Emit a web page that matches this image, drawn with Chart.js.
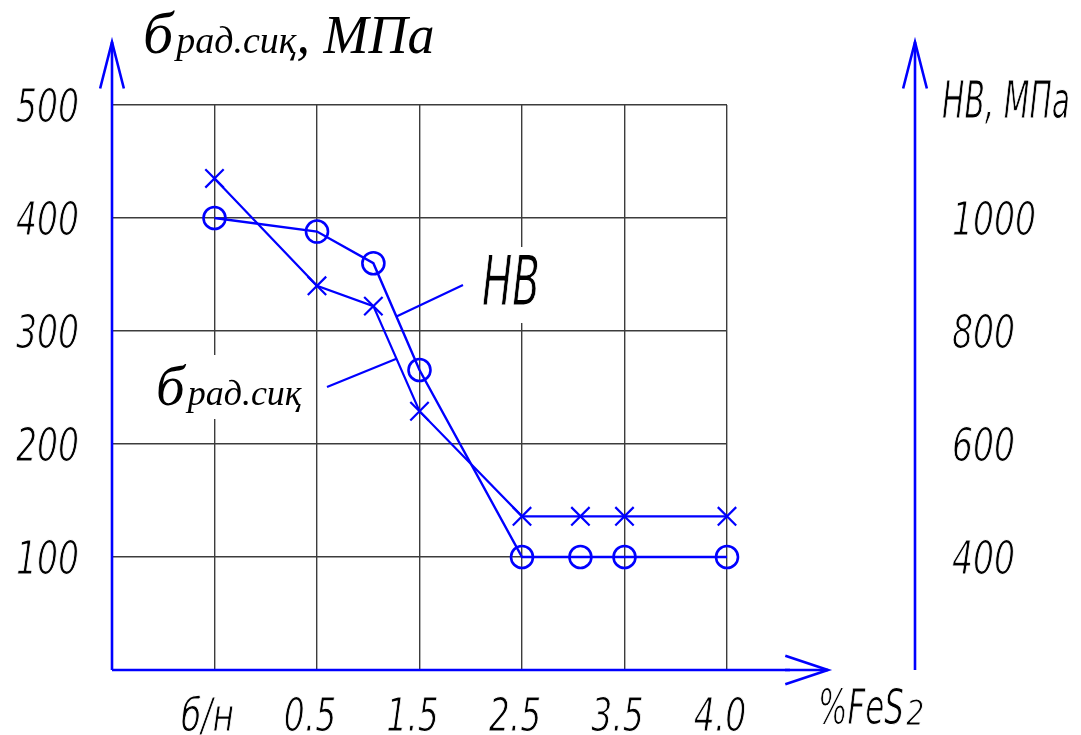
<!DOCTYPE html>
<html lang="ru">
<head>
<meta charset="utf-8">
<title>σ рад.сиқ и HB от содержания FeS2</title>
<script src="https://cdn.jsdelivr.net/npm/chart.js@4.4.1/dist/chart.umd.min.js"></script>
<style>
  html, body { margin: 0; padding: 0; background: #ffffff; }
  #wrap { position: relative; width: 1081px; height: 735px; }
</style>
</head>
<body>
<div id="wrap"><canvas id="chart"></canvas></div>
<script>
// Содержание FeS2 (категории) и их положение на оси абсцисс
const categories = ['б/н', '0.5', '1.0', '1.5', '2.5', '3.0', '3.5', '4.0'];
const axisSlots = [0, 1, 1.55, 2, 3, 3.57, 4, 5];

// Предел прочности при радиальном сжатии, МПа (левая ось)
const sigmaValues = [435, 340, 322, 229, 136, 136, 136, 136];
// Твёрдость HB, МПа (правая ось)
const hbValues = [1000, 976, 920, 731, 400, 400, 400, 400];

// Подписи осей
const xTickSlots = [0, 1, 2, 3, 4, 5];
const xTickLabels = ['б/н', '0.5', '1.5', '2.5', '3.5', '4.0'];
const sigmaTicks = [100, 200, 300, 400, 500];
const hbTicks = [400, 600, 800, 1000];

const BLUE = '#0000ff';
const GRID = '#3c3c3c';
// Наклонный шрифт, ужимаемый по ширине, как чертёжный
const GOST = '"DejaVu Sans", sans-serif';
const SERIF = '"Liberation Serif", "DejaVu Serif", serif';
const NUM_FONT = 'italic 46px ' + GOST;

function gostFont(size) {
  return 'italic ' + size + 'px ' + GOST;
}

function toPoints(values) {
  return axisSlots.map((x, i) => ({ x: x, y: values[i] }));
}

// Горизонтальное сжатие, при котором «500» имеет ширину чертёжного шрифта
function numberSqueeze(ctx) {
  ctx.save();
  ctx.font = NUM_FONT;
  const w = ctx.measureText('500').width;
  ctx.restore();
  return 63 / w;
}

// Текст с горизонтальным сжатием; белая обводка делает штрих тоньше
function text(ctx, str, x, y, font, align, sx) {
  ctx.save();
  ctx.translate(x, y);
  ctx.scale(sx || 1, 1);
  ctx.font = font;
  ctx.textAlign = align || 'left';
  ctx.textBaseline = 'alphabetic';
  ctx.fillStyle = '#000000';
  ctx.fillText(str, 0, 0);
  ctx.strokeStyle = '#ffffff';
  ctx.lineWidth = 1.1;
  ctx.lineJoin = 'round';
  ctx.strokeText(str, 0, 0);
  ctx.restore();
}

// Текст, ужатый до заданной ширины; возвращает правый край
function textFit(ctx, str, x, y, font, width) {
  ctx.save();
  ctx.font = font;
  const w = ctx.measureText(str).width;
  ctx.restore();
  text(ctx, str, x, y, font, 'left', width / w);
  return x + width;
}

// Обозначение σрад.сиқ: крупная буква и индекс
function sigmaSymbol(ctx, x, y, bigSize, subSize, tail, tailSize) {
  ctx.save();
  ctx.fillStyle = '#000000';
  ctx.textBaseline = 'alphabetic';
  ctx.textAlign = 'left';
  ctx.font = 'italic ' + bigSize + 'px ' + SERIF;
  ctx.fillText('б', x, y);
  let cx = x + ctx.measureText('б').width + 3;
  ctx.font = 'italic ' + subSize + 'px ' + SERIF;
  ctx.fillText('рад.сиқ', cx, y);
  cx += ctx.measureText('рад.сиқ').width;
  if (tail) {
    ctx.font = 'italic ' + tailSize + 'px ' + SERIF;
    ctx.fillText(tail, cx, y);
  }
  ctx.restore();
}

function arrowLine(ctx, x1, y1, x2, y2, wing, spread) {
  const a = Math.atan2(y2 - y1, x2 - x1);
  ctx.beginPath();
  ctx.moveTo(x1, y1);
  ctx.lineTo(x2, y2);
  ctx.stroke();
  ctx.beginPath();
  ctx.moveTo(x2 - wing * Math.cos(a - spread), y2 - wing * Math.sin(a - spread));
  ctx.lineTo(x2, y2);
  ctx.lineTo(x2 - wing * Math.cos(a + spread), y2 - wing * Math.sin(a + spread));
  ctx.stroke();
}

// Точка посередине отрезка ломаной (для выносных линий)
function segmentMid(meta, i) {
  const p = meta.data[i], q = meta.data[i + 1];
  return { x: (p.x + q.x) / 2, y: (p.y + q.y) / 2 };
}

const drawing = {
  id: 'drawing',
  afterDraw(chart) {
    const ctx = chart.ctx;
    const xs = chart.scales.x, ys = chart.scales.y, y2 = chart.scales.y2;
    const left = chart.chartArea.left, bottom = chart.chartArea.bottom;
    const rightAxisX = 915;
    const sx = numberSqueeze(ctx);

    // Подписи делений левой оси
    sigmaTicks.forEach(v => {
      text(ctx, String(v), 79, ys.getPixelForValue(v) + 17, NUM_FONT, 'right', sx);
    });
    // Подписи делений правой оси
    hbTicks.forEach(v => {
      text(ctx, String(v), 952, y2.getPixelForValue(v) + 17, NUM_FONT, 'left', sx);
    });
    // Подписи делений оси абсцисс
    xTickSlots.forEach((s, i) => {
      text(ctx, xTickLabels[i], xs.getPixelForValue(s) - 7, 731, NUM_FONT, 'center', sx);
    });

    // Наименования осей
    const fesEnd = textFit(ctx, '%FeS', 818, 724, gostFont(50), 86);
    text(ctx, '2', fesEnd + 2, 725, gostFont(36), 'left', 0.8);
    textFit(ctx, 'HB, МПа', 942, 118, gostFont(51), 128);
    sigmaSymbol(ctx, 143, 53, 60, 38, ', МПа', 54);

    // Оси со стрелками
    ctx.save();
    ctx.strokeStyle = BLUE;
    ctx.lineWidth = 2.6;
    ctx.lineCap = 'butt';
    ctx.lineJoin = 'miter';
    arrowLine(ctx, left, bottom, left, 42, 48, 0.25);
    arrowLine(ctx, rightAxisX, bottom, rightAxisX, 42, 48, 0.25);
    ctx.beginPath();
    ctx.moveTo(left, bottom);
    ctx.lineTo(790, bottom);
    ctx.stroke();
    arrowLine(ctx, 785, bottom, 828, bottom, 45, 0.32);
    ctx.restore();

    // Выносные надписи кривых
    const hbMeta = chart.getDatasetMeta(1);
    const sgMeta = chart.getDatasetMeta(0);
    const hbEnd = segmentMid(hbMeta, 2);
    const sgEnd = segmentMid(sgMeta, 2);

    ctx.save();
    ctx.fillStyle = '#ffffff';
    ctx.fillRect(476, 247, 72, 76);
    ctx.fillRect(153, 355, 160, 64);
    ctx.strokeStyle = BLUE;
    ctx.lineWidth = 2.2;
    ctx.beginPath();
    ctx.moveTo(463, 285);
    ctx.lineTo(hbEnd.x, hbEnd.y);
    ctx.moveTo(327, 387);
    ctx.lineTo(sgEnd.x, sgEnd.y);
    ctx.stroke();
    ctx.restore();

    textFit(ctx, 'HB', 482, 305, gostFont(69), 58);
    sigmaSymbol(ctx, 156, 405, 57, 36);
  }
};

new Chart(document.getElementById('chart'), {
  type: 'line',
  data: {
    datasets: [
      {
        label: 'брад.сиқ',
        data: toPoints(sigmaValues),
        yAxisID: 'y',
        clip: false,
        borderColor: BLUE,
        borderWidth: 2.2,
        pointStyle: 'crossRot',
        pointRadius: 13,
        pointBorderWidth: 2.2,
        pointBorderColor: BLUE,
        pointBackgroundColor: BLUE,
        tension: 0,
        fill: false
      },
      {
        label: 'HB',
        data: toPoints(hbValues),
        yAxisID: 'y2',
        clip: false,
        borderColor: BLUE,
        borderWidth: 2.4,
        pointStyle: 'circle',
        pointRadius: 11,
        pointBorderWidth: 2.6,
        pointBorderColor: BLUE,
        pointBackgroundColor: 'rgba(0,0,0,0)',
        tension: 0,
        fill: false
      }
    ]
  },
  options: {
    responsive: true,
    maintainAspectRatio: false,
    animation: false,
    events: [],
    layout: { autoPadding: false, padding: { top: 105, right: 354, left: 0, bottom: 0 } },
    plugins: { legend: { display: false }, tooltip: { enabled: false } },
    scales: {
      x: {
        type: 'linear',
        min: -1,
        max: 5,
        afterBuildTicks: s => { s.ticks = xTickSlots.map(v => ({ value: v })); },
        afterFit: s => { s.height = 65; },
        grid: { color: GRID, lineWidth: 1.4, drawTicks: false },
        border: { display: false },
        ticks: { display: false }
      },
      y: {
        position: 'left',
        min: 0,
        max: 500,
        afterBuildTicks: s => { s.ticks = sigmaTicks.map(v => ({ value: v })); },
        afterFit: s => { s.width = 112; },
        grid: { color: GRID, lineWidth: 1.4, drawTicks: false },
        border: { display: false },
        ticks: { display: false }
      },
      y2: {
        position: 'right',
        display: false,
        min: 200,
        max: 1200,
        afterBuildTicks: s => { s.ticks = hbTicks.map(v => ({ value: v })); }
      }
    }
  },
  plugins: [drawing]
});
</script>
</body>
</html>
